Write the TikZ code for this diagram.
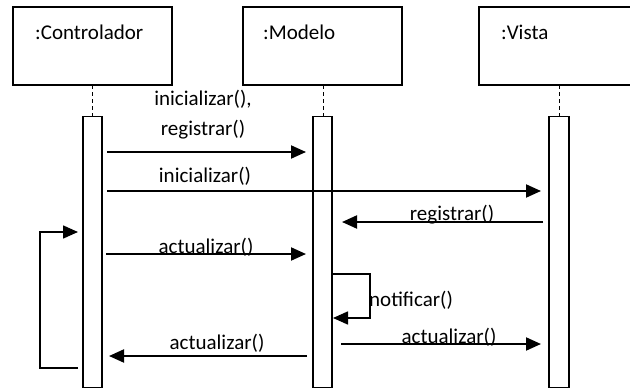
\documentclass[tikz,border=0pt]{standalone}
\usepackage{fontspec}
\setmainfont{Carlito}
\usetikzlibrary{arrows.meta}
\begin{document}
\begin{tikzpicture}[x=1pt,y=-1pt,
  objbox/.style={draw,line width=1.4pt},
  lifeline/.style={dashed,line width=1pt,dash pattern=on 4pt off 3pt},
  actbar/.style={draw,fill=white,line width=1.4pt},
  msg/.style={line width=2pt,-{Triangle[length=15pt,width=13pt]}},
  lbl/.style={inner sep=0pt,font=\fontsize{21}{30}\selectfont,align=center}]
\useasboundingbox (0,0) rectangle (630,388);
\clip (0,0) rectangle (630,388);

% object boxes
\draw[objbox] (13,7) rectangle (172,85);
\draw[objbox] (243,7) rectangle (402,85);
\draw[objbox] (479,7) rectangle (639,85);
\node[lbl,anchor=west] (tc) at (35,32) {:Controlador};
\node[lbl,anchor=west] (tm) at (263,32) {:Modelo};
\node[lbl,anchor=west] (tv) at (501,32) {:Vista};

% lifelines
\draw[lifeline] (92,85) -- (92,116);
\draw[lifeline] (323,85) -- (323,116);
\draw[lifeline] (559,85) -- (559,116);

% activation bars
\node[actbar,minimum width=19pt,minimum height=271pt,inner sep=0pt,anchor=north] (bc) at (92.5,116) {};
\node[actbar,minimum width=19pt,minimum height=271pt,inner sep=0pt,anchor=north] (bm) at (322.5,116) {};
\node[actbar,minimum width=20pt,minimum height=271pt,inner sep=0pt,anchor=north] (bv) at (559,116) {};

% anchor points of messages
\coordinate (a1s) at (107,152);  \coordinate (a1e) at (306,152);
\coordinate (a2s) at (107,191);  \coordinate (a2e) at (541,191);
\coordinate (a3s) at (543,222);  \coordinate (a3e) at (342,222);
\coordinate (a4s) at (106,254);  \coordinate (a4e) at (306,254);
\coordinate (l1) at (78,368);    \coordinate (l2) at (40,368);
\coordinate (l3) at (40,232);    \coordinate (l4) at (78,232);
\coordinate (n1) at (332,274);   \coordinate (n2) at (370,274);
\coordinate (n3) at (370,318);   \coordinate (n4) at (333,318);
\coordinate (a7s) at (307,356);  \coordinate (a7e) at (109,356);
\coordinate (a8s) at (341,344);  \coordinate (a8e) at (541,344);

% messages
\draw[msg] (a1s) -- (a1e);
\node[lbl] (m1) at (203,115) {inicializar(),\\registrar()};
\draw[msg] (a2s) -- (a2e);
\node[lbl] (m2) at (205,176) {inicializar()};
\draw[msg] (a3s) -- (a3e);
\node[lbl] (m3) at (452,215) {registrar()};
\draw[msg] (a4s) -- (a4e);
\node[lbl] (m4) at (206,247) {actualizar()};
\draw[msg,line width=1.6pt] (l1) -- (l2) -- (l3) -- (l4);
\draw[msg,line width=1.6pt] (n1) -- (n2) -- (n3) -- (n4);
\node[lbl,anchor=west] (m5) at (369,300) {notificar()};
\draw[msg] (a7s) -- (a7e);
\node[lbl] (m7) at (217,343) {actualizar()};
\draw[msg] (a8s) -- (a8e);
\node[lbl] (m8) at (449,337) {actualizar()};
\end{tikzpicture}
\end{document}
